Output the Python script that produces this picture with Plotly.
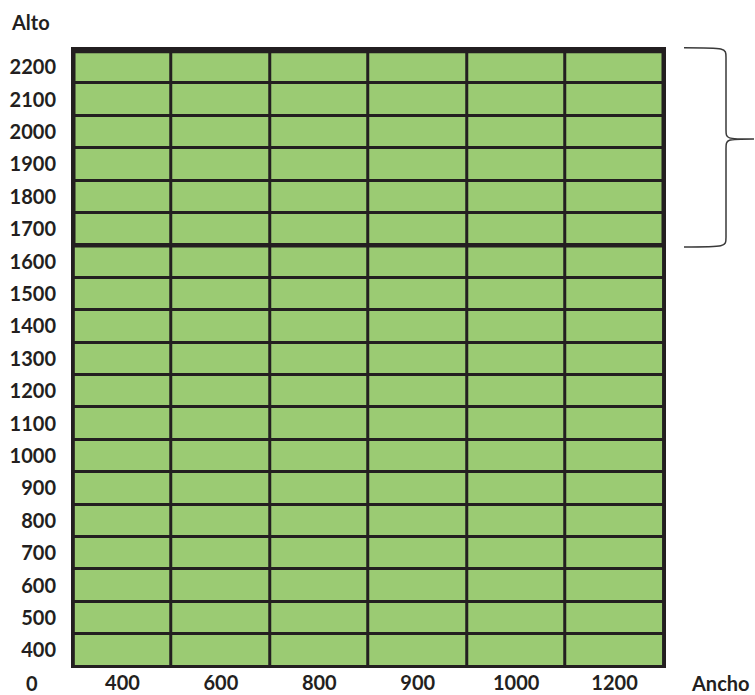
import plotly.graph_objects as go

# Data
anchos = ["400", "600", "800", "900", "1000", "1200"]
altos = ["400", "500", "600", "700", "800", "900", "1000", "1100", "1200",
         "1300", "1400", "1500", "1600", "1700", "1800", "1900", "2000", "2100", "2200"]
bloque_altos = ["1700", "1800", "1900", "2000", "2100", "2200"]

GREEN = "#9BCB73"
DARK = "#231F20"
FONT = dict(family="Lato, 'Open Sans', sans-serif", size=20, color=DARK)

z = [[1 for _ in anchos] for _ in altos]

fig = go.Figure(go.Heatmap(
    x=anchos, y=altos, z=z,
    colorscale=[[0, GREEN], [1, GREEN]], showscale=False,
    xgap=3, ygap=3, hoverinfo="skip",
))

W, H = 755, 695
L, R, T, B = 71, 89, 47, 27
pw = W - L - R
ph = H - T - B

def px_to_paper_x(px):
    return (px - L) / pw

def px_to_paper_y(py):
    return (H - B - py) / ph

nx, ny = len(anchos), len(altos)
# outer border of the whole grid
fig.add_shape(type="rect", xref="x", yref="y", x0=-0.5, x1=nx - 0.5, y0=-0.5, y1=ny - 0.5,
              line=dict(color=DARK, width=3), fillcolor="rgba(0,0,0,0)")
# thick border around the top block
b0 = altos.index(bloque_altos[0]) - 0.5
b1 = altos.index(bloque_altos[-1]) + 0.5
fig.add_shape(type="rect", xref="x", yref="y", x0=-0.5, x1=nx - 0.5, y0=b0, y1=b1,
              line=dict(color=DARK, width=4.5), fillcolor="rgba(0,0,0,0)")

# curly brace to the right of the block
xa = px_to_paper_x(684)
xm = px_to_paper_x(726)
xt = px_to_paper_x(754)
ytop = b1 + 0.1
ybot = b0 - 0.05
ymid = (b0 + b1) / 2 + 0.28
c = 0.3
path = (f"M {xa},{ytop} C {xm},{ytop} {xm},{ytop} {xm},{ytop - c} "
        f"L {xm},{ymid + c} C {xm},{ymid} {xm},{ymid} {xt},{ymid} "
        f"C {xm},{ymid} {xm},{ymid} {xm},{ymid - c} "
        f"L {xm},{ybot + c} C {xm},{ybot} {xm},{ybot} {xa},{ybot}")
fig.add_shape(type="path", xref="paper", yref="y", path=path,
              line=dict(color="#3a3a3a", width=1.5))

tick_font = dict(family=FONT["family"], size=20, color=DARK, weight="bold")
fig.update_layout(
    width=W, height=H,
    margin=dict(l=L, r=R, t=T, b=B, autoexpand=False),
    paper_bgcolor="white", plot_bgcolor=DARK,
    font=FONT,
    xaxis=dict(type="category", showgrid=False, zeroline=False, ticks="",
               tickfont=tick_font, ticklabelstandoff=1, fixedrange=True),
    yaxis=dict(type="category", showgrid=False, zeroline=False, ticks="",
               tickfont=tick_font, ticklabelstandoff=14, fixedrange=True),
)

fig.add_annotation(text="<b>Alto</b>", xref="paper", yref="paper",
                   x=px_to_paper_x(30), y=px_to_paper_y(22),
                   showarrow=False, font=FONT, xanchor="center", yanchor="middle")
fig.add_annotation(text="<b>0</b>", xref="paper", yref="paper",
                   x=px_to_paper_x(32), y=px_to_paper_y(683),
                   showarrow=False, font=FONT, xanchor="center", yanchor="middle")
fig.add_annotation(text="<b>Ancho</b>", xref="paper", yref="paper",
                   x=px_to_paper_x(721), y=px_to_paper_y(683),
                   showarrow=False, font=FONT, xanchor="center", yanchor="middle")

fig.write_html("out.html", config={"displayModeBar": False},
               post_script="document.body.style.margin='0';document.body.style.overflow='hidden';")
